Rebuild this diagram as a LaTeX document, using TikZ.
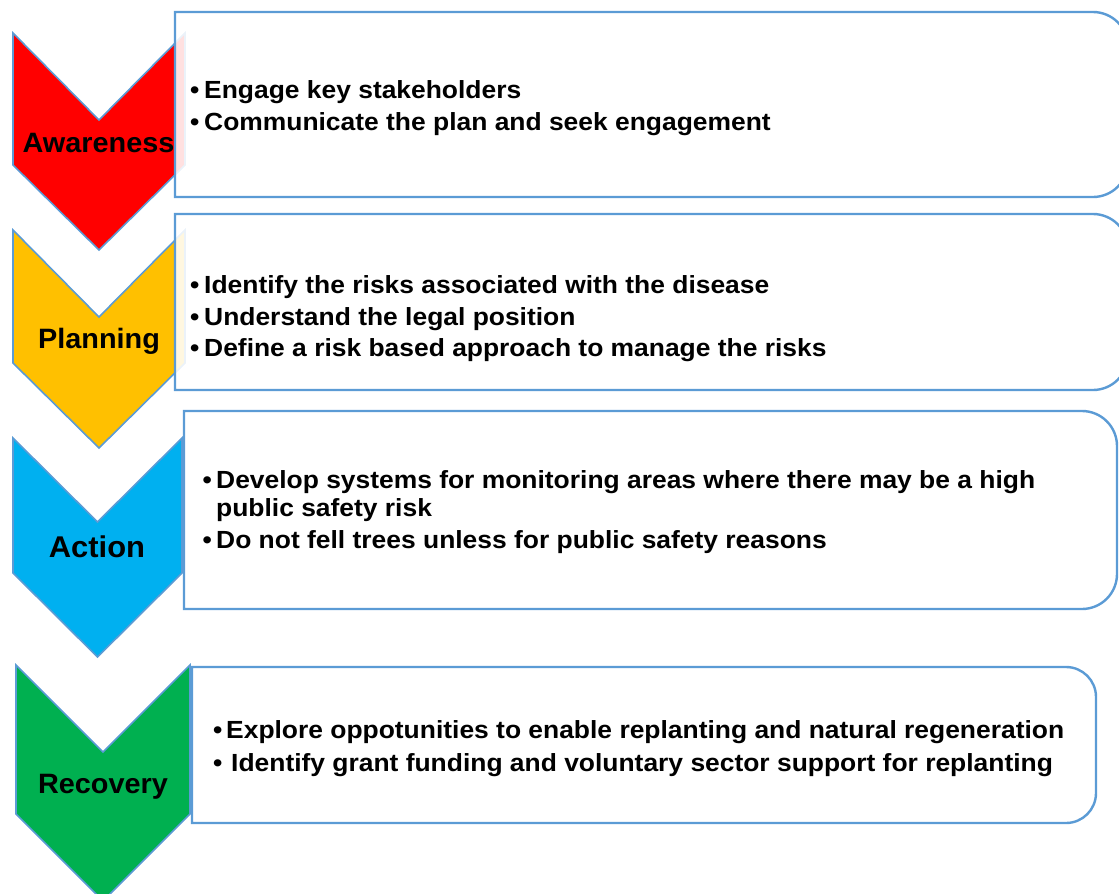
\documentclass[tikz,border=0pt]{standalone}
\usepackage{fontspec}
\setmainfont{Liberation Sans}
\newfontfamily\widefont[FakeStretch=1.065]{Liberation Sans}
\newfontfamily\lblfont[FakeStretch=1.03]{Liberation Sans}
\definecolor{edge}{HTML}{5B9BD5}
\definecolor{cred}{HTML}{FF0000}
\definecolor{cyel}{HTML}{FFC000}
\definecolor{cblu}{HTML}{00B0F0}
\definecolor{cgrn}{HTML}{00B050}
\tikzset{
  chev/.style={draw=edge, line width=1.6pt, line join=miter},
  panel/.style={draw=edge, line width=2.4pt, fill=white, fill opacity=0.88},
  lbl/.style={font=\lblfont\fontsize{28}{33}\selectfont\bfseries, anchor=base, inner sep=0pt},
  txt/.style={font=\widefont\fontsize{24.8}{30}\selectfont\bfseries, anchor=base west, inner sep=0pt},
}
\newcommand\bline[5]{%
  \node[txt] (#1b) at (#2,#4) {\textbullet};
  \node[txt] (#1) at (#3,#4) {#5};}
\begin{document}
\begin{tikzpicture}[x=1pt,y=-1pt]
\useasboundingbox (0,0) rectangle (1119,894);
\clip (0,0) rectangle (1119,894);
% chevrons
\path[chev, fill=cred] (13,33) -- (99,120) -- (185,33) -- (185,165) -- (99,250) -- (13,165) -- cycle;
\node[lbl] (aw) at (98.5,152) {Awareness};
\path[chev, fill=cyel] (13,230) -- (99,317) -- (185,230) -- (185,363) -- (99,448) -- (13,363) -- cycle;
\node[lbl] (pl) at (99,348) {Planning};
\path[chev, fill=cblu] (13,438) -- (97.5,522) -- (182,438) -- (182,573) -- (97.5,657) -- (13,573) -- cycle;
\node[lbl, font=\lblfont\fontsize{30}{35}\selectfont\bfseries] (ac) at (97,557) {Action};
\path[chev, fill=cgrn] (16,665) -- (103,752) -- (190,665) -- (190,814) -- (103,901) -- (16,814) -- cycle;
\node[lbl] (re) at (103,793) {Recovery};
% panels
\path[panel] (175,12) -- (1093,12) .. controls (1112.3,12) and (1128,27.7) .. (1128,47) -- (1128,162) .. controls (1128,181.3) and (1112.3,197) .. (1093,197) -- (175,197) -- cycle;
\path[panel] (175,214) -- (1093,214) .. controls (1112.3,214) and (1128,229.7) .. (1128,249) -- (1128,355) .. controls (1128,374.3) and (1112.3,390) .. (1093,390) -- (175,390) -- cycle;
\path[panel] (184,411) -- (1082,411) .. controls (1101.3,411) and (1117,426.7) .. (1117,446) -- (1117,574) .. controls (1117,593.3) and (1101.3,609) .. (1082,609) -- (184,609) -- cycle;
\path[panel] (192,667) -- (1066,667) .. controls (1082.6,667) and (1096,680.4) .. (1096,697) -- (1096,793) .. controls (1096,809.6) and (1082.6,823) .. (1066,823) -- (192,823) -- cycle;
% texts
\bline{a1}{190}{204}{98}{Engage key stakeholders}
\bline{a2}{190}{204}{130}{Communicate the plan and seek engagement}
\bline{p1}{190}{204}{293}{Identify the risks associated with the disease}
\bline{p2}{190}{204}{325}{Understand the legal position}
\bline{p3}{190}{204}{356}{Define a risk based approach to manage the risks}
\bline{c1}{202.5}{216}{488}{Develop systems for monitoring areas where there may be a high}
\node[txt] (c2) at (216,516) {public safety risk};
\bline{c3}{202.5}{216}{548}{Do not fell trees unless for public safety reasons}
\bline{r1}{213}{226}{738}{Explore oppotunities to enable replanting and natural regeneration}
\bline{r2}{213}{231}{771}{Identify grant funding and voluntary sector support for replanting}
\end{tikzpicture}
\end{document}
